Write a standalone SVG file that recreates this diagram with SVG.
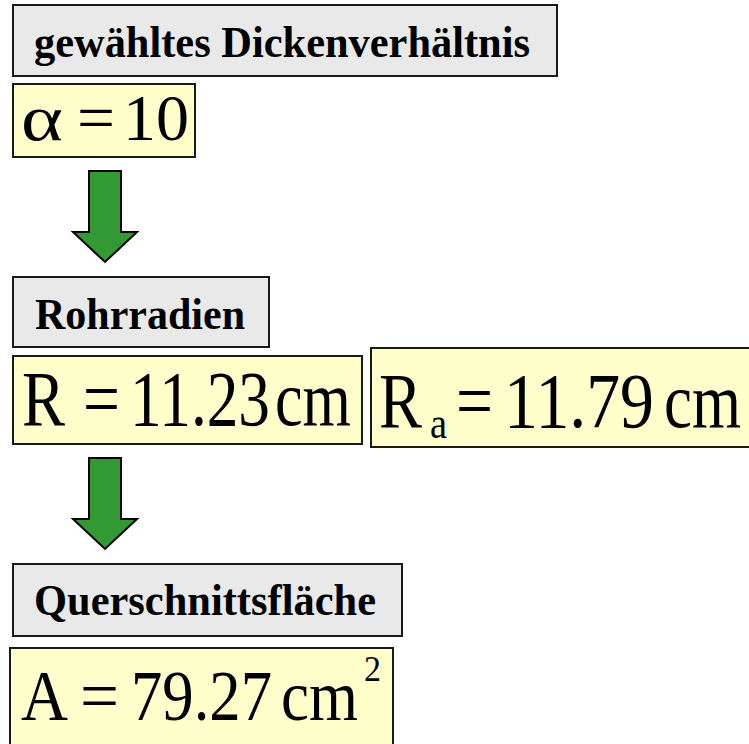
<svg xmlns="http://www.w3.org/2000/svg" width="749" height="744" viewBox="0 0 749 744">
<style>
.hdr{fill:#e9e9e9;stroke:#1a1a1a;stroke-width:2}
.val{fill:#ffffcc;stroke:#1a1a1a;stroke-width:2}
.ht{font-family:'Times New Roman','Liberation Serif',Tinos,'Nimbus Roman',serif;font-weight:bold;font-size:44px;fill:#000}
.mt{font-family:'Times New Roman','Liberation Serif',Tinos,'Nimbus Roman',serif;fill:#000}
.arr{fill:#339933;stroke:#000;stroke-width:2;stroke-linejoin:miter}
</style>
<rect width="749" height="744" fill="#fff"/>
<g id="n-dicke">
<rect class="hdr" x="13" y="5" width="544" height="71"/>
<text class="ht" x="34" y="57" textLength="496" lengthAdjust="spacingAndGlyphs">gewähltes Dickenverhältnis</text>
</g>
<g id="n-alpha">
<rect class="val" x="13" y="84" width="182" height="73"/>
<text class="mt" x="21" y="140" font-size="66" textLength="42" lengthAdjust="spacingAndGlyphs">α</text>
<text class="mt" x="77" y="140" font-size="66" textLength="38" lengthAdjust="spacingAndGlyphs">=</text>
<text class="mt" x="123" y="140" font-size="66" textLength="66" lengthAdjust="spacingAndGlyphs">10</text>
</g>
<g id="n-rohr">
<rect class="hdr" x="13" y="277" width="256" height="70"/>
<text class="ht" x="35" y="329" textLength="210" lengthAdjust="spacingAndGlyphs">Rohrradien</text>
</g>
<g id="n-ri">
<rect class="val" x="13" y="356" width="349" height="88"/>
<text class="mt" x="22" y="425" font-size="79" textLength="43" lengthAdjust="spacingAndGlyphs">R</text>
<text class="mt" x="83" y="425" font-size="79" textLength="37" lengthAdjust="spacingAndGlyphs">=</text>
<text class="mt" x="130" y="425" font-size="79" textLength="140" lengthAdjust="spacingAndGlyphs">11.23</text>
<text class="mt" x="275" y="425" font-size="79" textLength="76" lengthAdjust="spacingAndGlyphs">cm</text>
</g>
<g id="n-ra">
<rect class="val" x="371" y="348" width="380" height="99"/>
<text class="mt" x="379" y="427" font-size="79" textLength="43" lengthAdjust="spacingAndGlyphs">R</text>
<text class="mt" x="430" y="438" font-size="44" textLength="17" lengthAdjust="spacingAndGlyphs">a</text>
<text class="mt" x="456" y="427" font-size="79" textLength="37" lengthAdjust="spacingAndGlyphs">=</text>
<text class="mt" x="504" y="427" font-size="79" textLength="150" lengthAdjust="spacingAndGlyphs">11.79</text>
<text class="mt" x="664" y="427" font-size="79" textLength="77" lengthAdjust="spacingAndGlyphs">cm</text>
</g>
<g id="n-quer">
<rect class="hdr" x="13" y="564" width="389" height="72"/>
<text class="ht" x="34" y="615" textLength="342" lengthAdjust="spacingAndGlyphs">Querschnittsfläche</text>
</g>
<g id="n-area">
<rect class="val" x="10" y="648" width="383" height="100"/>
<text class="mt" x="21" y="720" font-size="72" textLength="47" lengthAdjust="spacingAndGlyphs">A</text>
<text class="mt" x="80" y="720" font-size="72" textLength="39" lengthAdjust="spacingAndGlyphs">=</text>
<text class="mt" x="131" y="720" font-size="72" textLength="141" lengthAdjust="spacingAndGlyphs">79.27</text>
<text class="mt" x="281" y="720" font-size="72" textLength="77" lengthAdjust="spacingAndGlyphs">cm</text>
<text class="mt" x="364" y="681" font-size="36" textLength="17" lengthAdjust="spacingAndGlyphs">2</text>
</g>
<g id="connectors">
<path class="arr" d="M89,171 H121 V232 H137 L105,262 L73,232 H89 Z"/>
<path class="arr" d="M89,458 H121 V519 H137 L105,549 L73,519 H89 Z"/>
</g>
</svg>
